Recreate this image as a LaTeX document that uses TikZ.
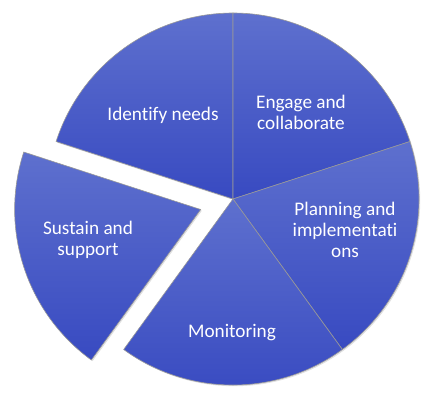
\documentclass[tikz,border=0pt]{standalone}
\usepackage{fontspec}
\setmainfont{Carlito}[Ligatures=NoCommon]
\usetikzlibrary{shadows,calc}

\definecolor{sliceTop}{RGB}{94,112,206}
\definecolor{sliceBottom}{RGB}{56,74,193}

\tikzset{
  slice/.style={top color=sliceTop, bottom color=sliceBottom, draw=gray!80, line width=0.6bp,
    drop shadow={opacity=0.25, shadow xshift=1.2bp, shadow yshift=-1.2bp}},
  lbl/.style={text=white, align=center, font=\fontsize{19.3}{21}\selectfont}
}

\begin{document}
\begin{tikzpicture}[x=1bp, y=1bp]
    \useasboundingbox (0,0) rectangle (437,406);
    \coordinate (O) at (233,207);

    % slices, 72 degrees each
    \path[slice] (O) -- ++(90:186) arc[start angle=90, end angle=162, radius=186] -- cycle;
    \path[slice] (O) -- ++(18:186) arc[start angle=18, end angle=90, radius=186] -- cycle;
    \path[slice] (O) -- ++(-54:186) arc[start angle=-54, end angle=18, radius=186] -- cycle;
    \path[slice] (O) -- ++(-126:186) arc[start angle=-126, end angle=-54, radius=186] -- cycle;

    % pulled out slice
    \coordinate (Os) at ($(O)+(198:34)$);
    \path[slice] (Os) -- ++(162:186) arc[start angle=162, end angle=234, radius=186] -- cycle;

    \node[lbl] (identify) at (163,291) {Identify needs};
    \node[lbl] (engage) at (301,294) {Engage and\\collaborate};
    \node[lbl] (planning) at (345,176) {Planning and\\implementati\\ons};
    \node[lbl] (monitoring) at (232,73) {Monitoring};
    \node[lbl] (sustain) at (88,166) {Sustain and\\support};
  \end{tikzpicture}
\end{document}
